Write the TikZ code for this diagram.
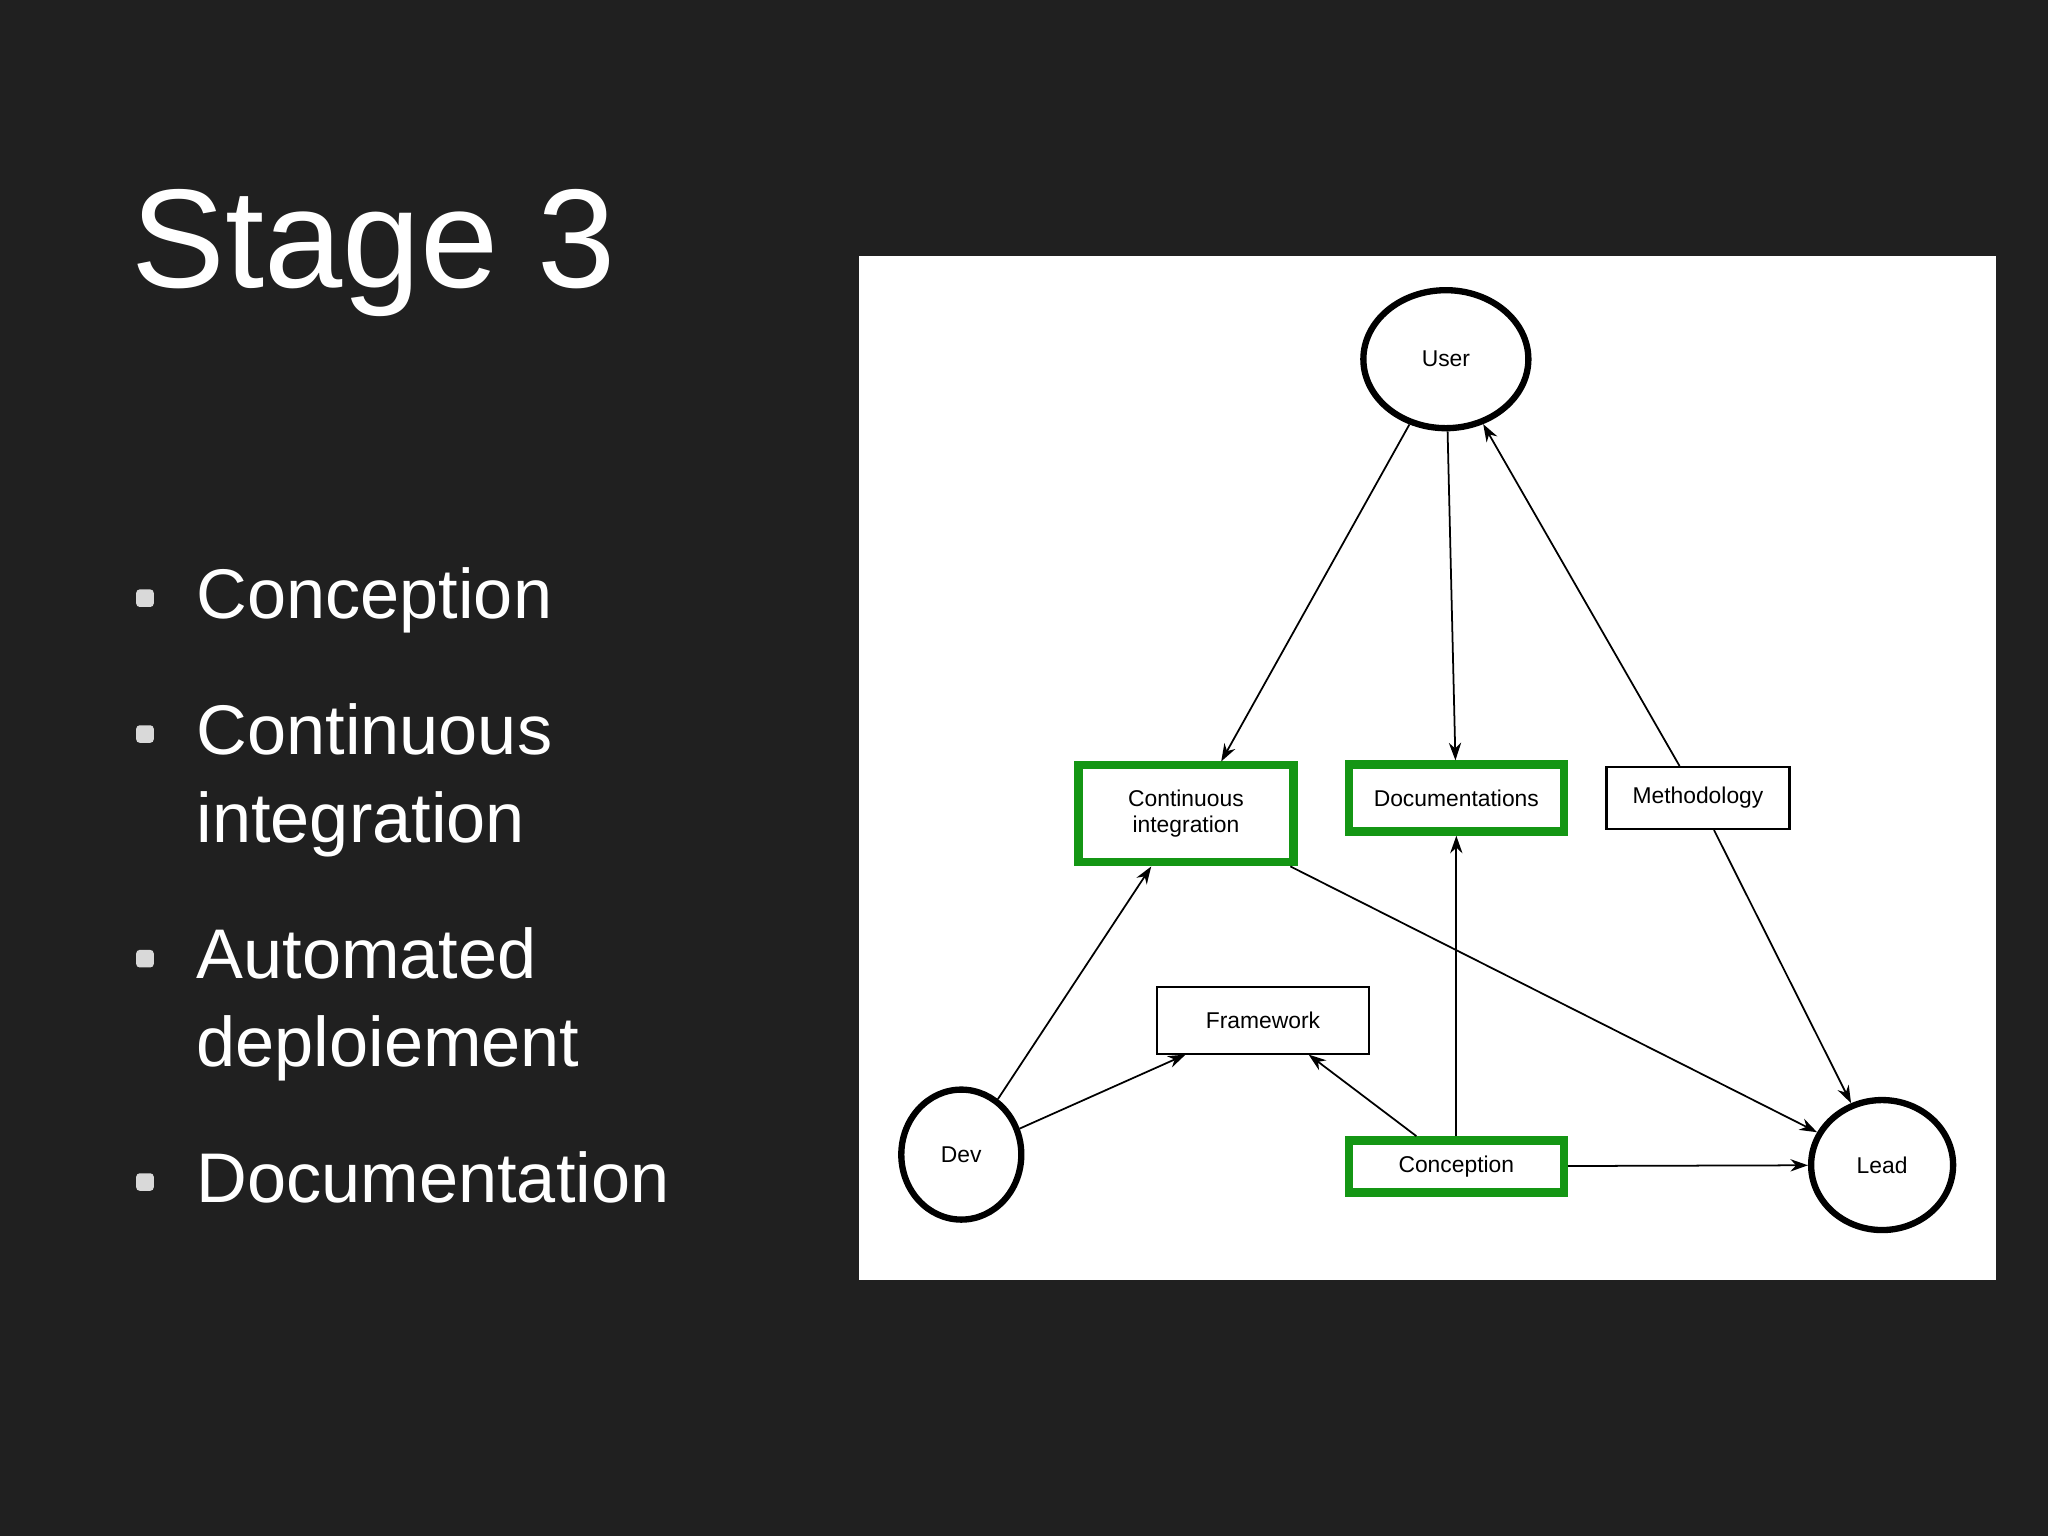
\documentclass[tikz,border=0pt]{standalone}
\usepackage{fontspec}
\setmainfont{Liberation Sans}
\usetikzlibrary{arrows.meta,shapes.geometric,calc}
\definecolor{bg}{RGB}{32,32,32}
\definecolor{grn}{RGB}{20,150,20}
\tikzset{
  circ/.style={ellipse,draw=black,line width=1.8pt,fill=white,font=\fontsize{6.5}{8}\selectfont,inner sep=0pt},
  gbox/.style={rectangle,draw=grn,line width=2.4pt,fill=white,font=\fontsize{6.5}{7.5}\selectfont,align=center,inner sep=0pt},
  pbox/.style={rectangle,draw=black,line width=0.6pt,fill=white,font=\fontsize{6.5}{7.5}\selectfont,inner sep=0pt},
  edge/.style={-{Stealth[length=5pt,width=3.5pt]},line width=0.5pt},
  bul/.style={font=\fontsize{20}{25}\selectfont,text=white,anchor=north west,align=left,inner sep=0pt},
  dot/.style={rectangle,fill=white!85!black,minimum size=5pt,inner sep=0pt,rounded corners=1pt}
}
\begin{document}
\begin{tikzpicture}[x=0.01306cm,y=-0.01306cm]
\fill[bg] (0,0) rectangle (1568,1176);
\useasboundingbox (0,0) rectangle (1568,1176);
\node[anchor=base west,text=white,font=\fontsize{40}{48}\selectfont,inner sep=0pt] (title) at (100,220) {Stage 3};
\node[dot] (b1) at (111,458) {};
\node[dot] (b2) at (111,562) {};
\node[dot] (b3) at (111,734) {};
\node[dot] (b4) at (111,905) {};
\node[bul] (t1) at (150,434) {Conception};
\node[bul] (t2) at (150,538) {Continuous\\integration};
\node[bul] (t3) at (150,710) {Automated\\deploiement};
\node[bul] (t4) at (150,881) {Documentation};
\fill[white] (658,196) rectangle (1528,980);
\node[circ,minimum width=1.65cm,minimum height=1.38cm] (user) at (1107,275) {User};
\node[circ,minimum width=1.2cm,minimum height=1.3cm] (dev) at (736,884) {Dev};
\node[circ,minimum width=1.42cm,minimum height=1.3cm] (lead) at (1441,892) {Lead};
\node[gbox,minimum width=2.15cm,minimum height=0.97cm] (ci) at (908,623) {Continuous\\integration};
\node[gbox,minimum width=2.15cm,minimum height=0.67cm] (doc) at (1115,611) {Documentations};
\node[pbox,minimum width=1.83cm,minimum height=0.62cm] (meth) at (1300,611) {Methodology};
\node[pbox,minimum width=2.12cm,minimum height=0.67cm] (fw) at (967,781) {Framework};
\node[gbox,minimum width=2.15cm,minimum height=0.52cm] (conc) at (1115,893) {Conception};
\coordinate (citop) at (935,583);
\draw[edge] (user) -- (citop);
\draw[edge] (user) -- (doc);
\draw[edge] (meth) -- (user);
\draw[edge] (meth) -- (lead);
\draw[edge] (ci) -- (lead);
\draw[edge] (dev) -- (ci);
\draw[edge] (dev) -- (fw);
\draw[edge] (conc) -- (fw);
\draw[edge] (conc) -- (doc);
\draw[edge] (conc) -- (lead);
\end{tikzpicture}
\end{document}
